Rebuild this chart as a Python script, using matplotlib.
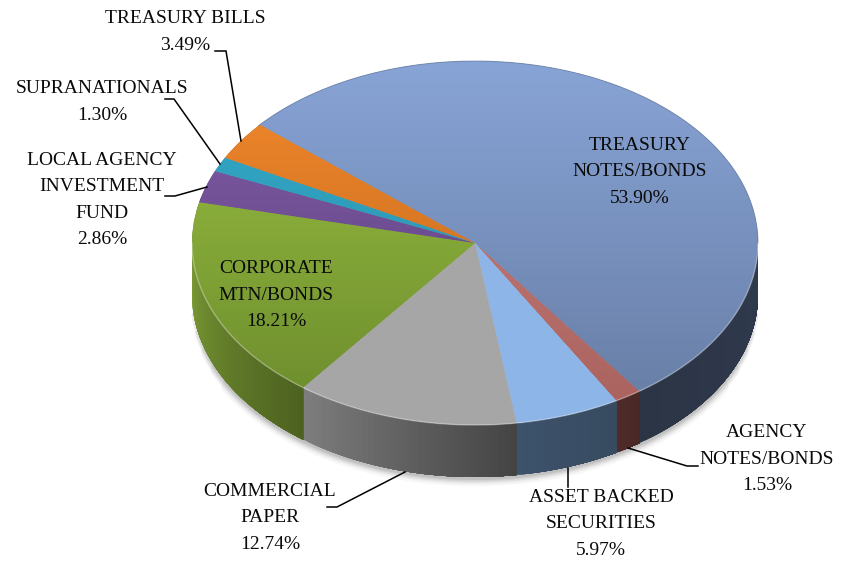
import numpy as np
from matplotlib import pyplot as plt
from matplotlib.collections import PolyCollection
from matplotlib.colors import LinearSegmentedColormap, to_rgb

# holdings, clockwise from the top left
names = ['TREASURY\nNOTES/BONDS', 'AGENCY\nNOTES/BONDS', 'ASSET BACKED\nSECURITIES',
         'COMMERCIAL\nPAPER', 'CORPORATE\nMTN/BONDS', 'LOCAL AGENCY\nINVESTMENT\nFUND',
         'SUPRANATIONALS', 'TREASURY BILLS']
shares = [53.90, 1.53, 5.97, 12.74, 18.21, 2.86, 1.30, 3.49]

# top face gradient (upper colour, lower colour) and rim gradient (left, right)
top_colors = [('#88a4d6', '#667ca3'), ('#cf8481', '#a8615d'), ('#8db5e7', '#8db5e7'),
              ('#a6a6a6', '#a6a6a6'), ('#9cc243', '#6a8a2c'), ('#8560ad', '#553a74'),
              ('#33accb', '#2a8aa5'), ('#f58a2c', '#b9631c')]
wall_colors = [('#2c3546', '#2f3a4d'), ('#4f2c2a', '#4a2826'), ('#3d536b', '#374a60'),
               ('#7d7d7d', '#444444'), ('#7c9c36', '#4d6220'), ('#553a74', '#553a74'),
               ('#2a8aa5', '#2a8aa5'), ('#b9631c', '#b9631c')]

# label centres and leader lines, in pixels from the top left of the figure
label_xy = [(640, 172), (767, 459), (601, 524), (270, 518), (276, 295), (102, 200), (102, 102), (185, 32)]
leaders = [[(215, 51), (226, 51), (241, 141)],
           [(165, 99), (174, 99), (220, 164)],
           [(165, 196), (175, 196), (207, 187)],
           [(327, 507), (337, 507), (405, 472)],
           [(568, 468), (568, 487)],
           [(628, 448), (687, 466), (698, 466)]]

W, H = 852, 561
CX, CY = 475, 243
RX, RY = 283, 182
DEPTH = 52 / RY
START = 139.5


def px(x, y):
    return (x - CX) / RX, (CY - y) / RY


fig = plt.figure(figsize=(W / 100, H / 100), dpi=100)
ax = fig.add_axes([0, 0, 1, 1])
plt.rcParams['font.family'] = ['Liberation Serif', 'DejaVu Serif']

wedges, _ = ax.pie(shares, startangle=START, counterclock=False, radius=1, center=(0, 0), frame=False)
xlim = (px(0, 0)[0], px(W, 0)[0])
ylim = (px(0, H)[1], px(0, 0)[1])

# soft shadow under the rim, wider bands stop short of the ends so it fades out
for lw, a, trim in zip([12, 9, 7, 5, 3], [0.03, 0.04, 0.05, 0.06, 0.08], [30, 24, 18, 12, 6]):
    t = np.radians(np.linspace(180 + trim, 360 - trim, 200))
    ax.plot(np.cos(t), np.sin(t) - DEPTH - 0.005, color='black', lw=lw, alpha=a, zorder=1, solid_capstyle='round')

# rim, drawn as overlapping strips so each slice can shade from left to right
edges = START - np.cumsum([0] + shares) * 3.6
for i in range(len(shares)):
    a1, a0 = edges[i], edges[i + 1]
    a0, a1 = max(a0, -180), min(a1, 0)
    if a1 <= a0:
        continue
    ang = np.radians(np.linspace(a0, a1, 40))
    left, right = np.array(to_rgb(wall_colors[i][0])), np.array(to_rgb(wall_colors[i][1]))
    polys, cols = [], []
    for j in range(len(ang) - 1):
        # each strip runs on to the far end of the slice, the next one paints over it
        arc = ang[j:]
        x, y = np.cos(arc), np.sin(arc)
        polys.append(np.column_stack([np.r_[x, x[::-1]], np.r_[y, y[::-1] - DEPTH]]))
        cols.append(left + (right - left) * j / (len(ang) - 2))
    ax.add_collection(PolyCollection(polys, facecolors=cols, edgecolors='none', zorder=2))

# top face with a vertical gradient clipped to each wedge
ramp = np.linspace(0, 1, 256).reshape(-1, 1)
for i, w in enumerate(wedges):
    w.set_facecolor(top_colors[i][1])
    w.set_edgecolor('none')
    w.set_zorder(3)
    cmap = LinearSegmentedColormap.from_list('face', top_colors[i])
    im = ax.imshow(ramp, cmap=cmap, extent=(-1, 1, -1, 1), origin='upper', aspect='auto', zorder=4)
    im.set_clip_path(w)

# light bevel along the front edge of the top face
t = np.radians(np.linspace(-180, 0, 300))
ax.plot(np.cos(t), np.sin(t), color='white', lw=1.0, alpha=0.35, zorder=5)
t = np.radians(np.linspace(0, 140, 200))
ax.plot(np.cos(t), np.sin(t), color='#5f7698', lw=0.7, alpha=0.6, zorder=5)

for pts in leaders:
    xy = np.array([px(*p) for p in pts])
    ax.plot(xy[:, 0], xy[:, 1], color='black', lw=1.1, zorder=6, solid_joinstyle='miter')

for name, val, pos in zip(names, shares, label_xy):
    x, y = px(*pos)
    ax.text(x, y, '{}\n{:.2f}%'.format(name, val), ha='center', va='center', ma='center',
            fontsize=14, linespacing=1.72, color='#0a0a0a', zorder=7)

ax.set_aspect('auto')
ax.set_xlim(xlim)
ax.set_ylim(ylim)
ax.axis('off')
fig.savefig('out.png', dpi=100)
plt.close()
